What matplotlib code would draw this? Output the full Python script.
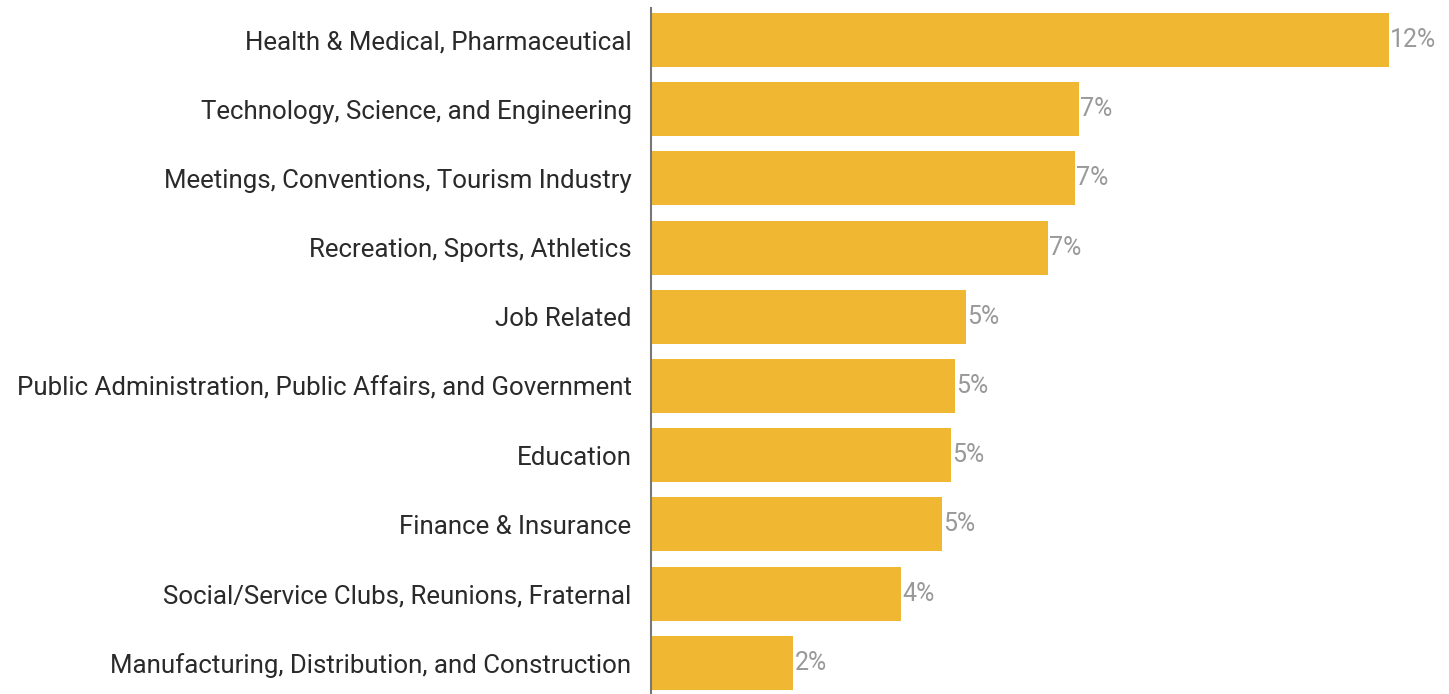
import matplotlib
matplotlib.use("Agg")
import matplotlib.pyplot as plt
import numpy as np

categories = [
    "Health & Medical, Pharmaceutical",
    "Technology, Science, and Engineering",
    "Meetings, Conventions, Tourism Industry",
    "Recreation, Sports, Athletics",
    "Job Related",
    "Public Administration, Public Affairs, and Government",
    "Education",
    "Finance & Insurance",
    "Social/Service Clubs, Reunions, Fraternal",
    "Manufacturing, Distribution, and Construction",
]
shares = [12.3, 7.13, 7.07, 6.62, 5.25, 5.07, 5.0, 4.85, 4.17, 2.37]

plt.rcParams["font.family"] = ["Roboto", "DejaVu Sans"]

fig = plt.figure(figsize=(14.49, 6.94), dpi=100)
ax = fig.add_axes([651 / 1449, 0, 798 / 1449, 686 / 694])

y = np.arange(len(categories))
ax.barh(y, shares, height=0.78, color="#f0b733")
for yi, v in zip(y, shares):
    ax.text(v + 0.02, yi, "%d%%" % round(v), va="center", ha="left",
            fontsize=18, color="#999999")

ax.set_yticks(y)
ax.set_yticklabels(categories, fontsize=18.6, color="#2a2a2a")
ax.tick_params(axis="y", length=0, pad=14)
ax.set_xticks([])
ax.set_xlim(0, 13.3)
ax.set_ylim(9.45, -0.46)

for s in ["top", "right", "bottom"]:
    ax.spines[s].set_visible(False)
ax.spines["left"].set_color("#777777")
ax.spines["left"].set_linewidth(1.5)

fig.savefig("out.png", dpi=100)
